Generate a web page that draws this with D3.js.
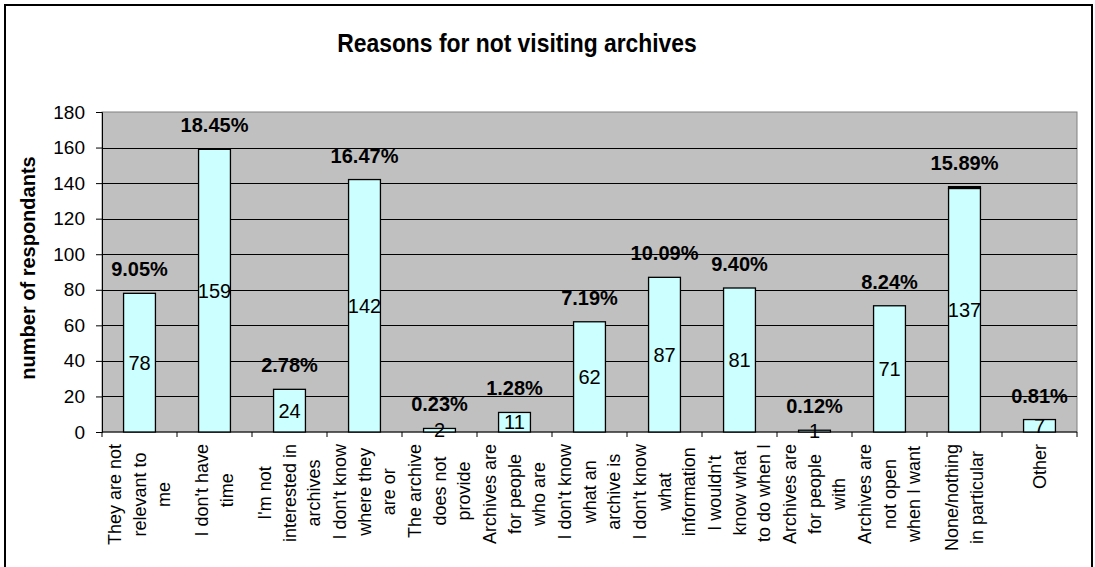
<!DOCTYPE html>
<html>
<head>
<meta charset="utf-8">
<script src="https://cdn.jsdelivr.net/npm/d3@7"></script>
<style>
	body { margin: 0; background: #fff; }
	text { font-family: "Liberation Sans", Arial, sans-serif; fill: #000; }
</style>
</head>
<body>
<div id="chart"></div>
<script>

var reasons = [
	["They are not", "relevant to", "me"],
	["I don't have", "time"],
	["I'm not", "interested in", "archives"],
	["I don't know", "where they", "are or"],
	["The archive", "does not", "provide"],
	["Archives are", "for people", "who are"],
	["I don't know", "what an", "archive is"],
	["I don't know", "what", "information"],
	["I wouldn't", "know what", "to do when I"],
	["Archives are", "for people", "with"],
	["Archives are", "not open", "when I want"],
	["None/nothing", "in particular"],
	["Other"]
]
var respondents = [78, 159, 24, 142, 2, 11, 62, 87, 81, 1, 71, 137, 7]
// second series, only one entry sits on top of a bar
var extra = [0, 0, 0, 0, 0, 0, 0, 0, 0, 0, 0, 1, 0]
var shares = [9.05, 18.45, 2.78, 16.47, 0.23, 1.28, 7.19, 10.09, 9.40, 0.12, 8.24, 15.89, 0.81]
var yTicks = [0, 20, 40, 60, 80, 100, 120, 140, 160, 180]

var width = 1095
var height = 567

var margin = {
	'top' : 112,
	'bottom' : 135,
	'left' : 102,
	'right' : 18,
}

var chartWidth = width - margin.left - margin.right
var chartHeight = height - margin.top - margin.bottom

var svg = d3.select('#chart').append('svg')
	.attr('width', width)
	.attr('height', height)

// outer frame
svg.append('rect')
	.attr('x', 5).attr('y', 5)
	.attr('width', width - 8).attr('height', height + 10)
	.attr('fill', 'none')
	.attr('stroke', '#000')
	.attr('stroke-width', 2)

svg.append('text')
	.attr('transform', 'translate(517,43) scale(0.88,1)')
	.attr('text-anchor', 'middle')
	.attr('dominant-baseline', 'central')
	.style('font-size', '26px')
	.style('font-weight', 'bold')
	.text('Reasons for not visiting archives')

var chartInner = svg.append('g')
	.attr('transform', 'translate(' + margin.left + ',' + margin.top + ')')

var xScale = d3.scaleBand()
	.domain(d3.range(reasons.length))
	.range([0, chartWidth])
	.padding(0)

var yScale = d3.scaleLinear()
	.domain([0, 180])
	.range([chartHeight, 0])

chartInner.append('rect')
	.attr('width', chartWidth)
	.attr('height', chartHeight)
	.attr('fill', '#c0c0c0')
	.attr('stroke', '#808080')

// gridlines + y axis
var yAxis = chartInner.append('g')
	.call(
		d3.axisLeft()
			.scale(yScale)
			.tickValues(yTicks)
			.tickSize(6)
			.tickPadding(11)
	)
yAxis.select('.domain').attr('stroke', '#000')
yAxis.selectAll('text')
	.style('font-size', '19px')
	.attr('fill', '#000')

chartInner.append('g').selectAll('line')
	.data(yTicks.filter(function(d) { return d > 0 && d < 180 }))
	.enter().append('line')
	.attr('x1', 0)
	.attr('x2', chartWidth)
	.attr('y1', function(d) { return Math.round(yScale(d)) + 0.5 })
	.attr('y2', function(d) { return Math.round(yScale(d)) + 0.5 })
	.attr('stroke', '#000')
	.attr('stroke-width', 1)

// x axis: ticks between categories
var xAxis = chartInner.append('g')
	.attr('transform', 'translate(0,' + chartHeight + ')')
xAxis.append('line')
	.attr('x1', 0).attr('x2', chartWidth)
	.attr('stroke', '#000')
xAxis.selectAll('.tick')
	.data(d3.range(reasons.length + 1))
	.enter().append('line')
	.attr('class', 'tick')
	.attr('x1', function(d) { return d * xScale.step() })
	.attr('x2', function(d) { return d * xScale.step() })
	.attr('y1', 0).attr('y2', 5)
	.attr('stroke', '#000')

var barWidth = xScale.bandwidth() * 0.425
function barX(i) {
	return xScale(i) + (xScale.bandwidth() - barWidth) / 2
}

var bars = chartInner.append('g').selectAll('rect')
	.data(respondents)
	.enter().append('rect')
	.attr('x', function(d, i) { return barX(i) })
	.attr('y', function(d) { return yScale(d) })
	.attr('width', barWidth)
	.attr('height', function(d) { return yScale(0) - yScale(d) })
	.attr('fill', '#ccffff')
	.attr('stroke', '#000')
	.attr('stroke-width', 1.3)

chartInner.append('g').selectAll('rect')
	.data(extra)
	.enter().filter(function(d) { return d > 0 })
	.append('rect')
	.attr('x', function(d, i) { return barX(extra.indexOf(d)) })
	.attr('y', function(d) { var i = extra.indexOf(d); return yScale(respondents[i] + d) })
	.attr('width', barWidth)
	.attr('height', function(d) { return yScale(0) - yScale(d) })
	.attr('fill', '#000')
	.attr('stroke', '#000')
	.attr('stroke-width', 1.3)

// counts, centred in the bar
chartInner.append('g').selectAll('text')
	.data(respondents)
	.enter().append('text')
	.attr('x', function(d, i) { return xScale(i) + xScale.bandwidth() / 2 })
	.attr('y', function(d) { return (yScale(d) + yScale(0)) / 2 })
	.attr('text-anchor', 'middle')
	.attr('dominant-baseline', 'central')
	.style('font-size', '20px')
	.text(function(d) { return d })

// share of all answers above each bar
chartInner.append('g').selectAll('text')
	.data(shares)
	.enter().append('text')
	.attr('x', function(d, i) { return xScale(i) + xScale.bandwidth() / 2 })
	.attr('y', function(d, i) { return yScale(respondents[i] + extra[i]) - 24 })
	.attr('text-anchor', 'middle')
	.attr('dominant-baseline', 'central')
	.style('font-size', '20px')
	.style('font-weight', 'bold')
	.text(function(d) { return d.toFixed(2) + '%' })

// wrapped category labels, rotated
var lineGap = 24.5
var labelTop = chartHeight + 12
chartInner.append('g').selectAll('g')
	.data(reasons)
	.enter().append('g')
	.each(function(lines, i) {
		var g = d3.select(this)
		var cx = xScale(i) + xScale.bandwidth() / 2
		var texts = g.selectAll('text')
			.data(lines)
			.enter().append('text')
			.attr('text-anchor', 'middle')
			.attr('dominant-baseline', 'central')
			.style('font-size', '18px')
			.text(function(d) { return d })
		var maxLen = d3.max(texts.nodes(), function(n) { return n.getComputedTextLength() })
		texts.attr('transform', function(d, j) {
			var x = cx + (j - (lines.length - 1) / 2) * lineGap
			var y = labelTop + maxLen / 2
			return 'translate(' + x + ',' + y + ') rotate(-90)'
		})
	})

svg.append('text')
	.attr('transform', 'translate(28,' + (margin.top + chartHeight / 2 - 4) + ') rotate(-90)')
	.attr('text-anchor', 'middle')
	.attr('dominant-baseline', 'central')
	.style('font-size', '20px')
	.style('font-weight', 'bold')
	.text('number of respondants')

</script>
</body>
</html>
